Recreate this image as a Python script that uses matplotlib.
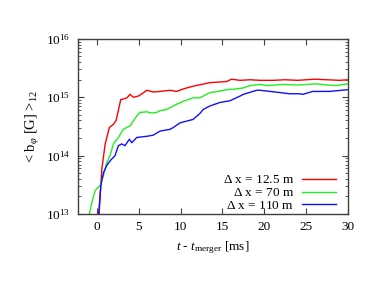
import numpy as np
import matplotlib
matplotlib.use('Agg')
import matplotlib.pyplot as plt
from matplotlib.ticker import LogLocator, NullFormatter, FixedLocator

# values (time in ms, log10 of <b_phi> in G)
red_t = [0.25, 0.6, 1.0, 1.5, 2.0, 2.3, 2.6, 2.86, 3.17, 3.6, 3.97, 4.36, 4.96, 5.5,
         5.96, 6.75, 7.55, 8.74, 9.5, 10.5, 11.5, 12.5, 13.5, 14.5, 15.5, 16.1, 17.1,
         18.3, 19.5, 21.0, 22.5, 24.0, 26.0, 27.5, 29.0, 30.0]
red_logb = [12.95, 13.77, 14.2, 14.48, 14.54, 14.6, 14.79, 14.96, 14.97, 14.99, 15.05,
            15.0, 15.02, 15.07, 15.12, 15.09, 15.10, 15.12, 15.10, 15.15, 15.19, 15.22,
            15.25, 15.26, 15.27, 15.31, 15.29, 15.30, 15.29, 15.29, 15.30, 15.29, 15.31,
            15.30, 15.29, 15.30]

green_t = [-0.88, -0.5, -0.2, 0.4, 0.8, 1.19, 1.59, 1.98, 2.58, 3.17, 3.97, 4.4, 4.77,
           5.16, 5.96, 6.5, 7.15, 7.55, 7.94, 8.34, 9.53, 10.5, 11.5, 12.3, 13.5, 14.5,
           15.5, 16.5, 17.5, 18.3, 19.5, 20.3, 22.2, 24.0, 26.2, 27.5, 28.6, 30.0]
green_logb = [13.0, 13.25, 13.40, 13.49, 13.66, 13.88, 14.0, 14.2, 14.31, 14.45, 14.51,
              14.6, 14.68, 14.74, 14.75, 14.73, 14.74, 14.77, 14.78, 14.79, 14.88, 14.94,
              14.99, 14.99, 15.08, 15.10, 15.13, 15.14, 15.16, 15.20, 15.22, 15.20, 15.22,
              15.21, 15.23, 15.21, 15.20, 15.23]

blue_t = [0.2, 0.48, 0.8, 1.19, 1.59, 2.18, 2.58, 2.98, 3.37, 3.89, 4.17, 4.77, 5.96,
          6.75, 7.55, 8.74, 9.13, 9.93, 11.5, 12.3, 12.7, 13.5, 14.7, 15.9, 17.1, 17.5,
          19.1, 19.5, 20.7, 21.9, 23.0, 24.2, 24.6, 25.8, 27.8, 30.0]
blue_logb = [12.95, 13.49, 13.71, 13.83, 13.91, 14.0, 14.17, 14.20, 14.17, 14.28, 14.22,
             14.31, 14.33, 14.35, 14.42, 14.45, 14.48, 14.56, 14.62, 14.72, 14.79, 14.85,
             14.91, 14.94, 15.02, 15.05, 15.12, 15.12, 15.10, 15.08, 15.06, 15.06, 15.05,
             15.10, 15.10, 15.13]

labels = [r'$\Delta$ x = 12.5 m', r'$\Delta$ x = 70 m', r'$\Delta$ x = 110 m']
colors = ['#ff0000', '#22ee22', '#1010ff']

plt.rcParams['font.family'] = ['Liberation Serif', 'DejaVu Serif']
plt.rcParams['mathtext.fontset'] = 'custom'
plt.rcParams['mathtext.rm'] = 'Liberation Serif'
plt.rcParams['mathtext.it'] = 'Liberation Serif:italic'
plt.rcParams['font.size'] = 9.5

fig = plt.figure(figsize=(3.82, 2.95), dpi=100)
ax = fig.add_axes([0.203, 0.275, 0.708, 0.593])

series = [(red_t, red_logb), (green_t, green_logb), (blue_t, blue_logb)]
for (t, lb), c, lab in zip(series, colors, labels):
    ax.plot(t, 10.0 ** np.array(lb), color=c, lw=1.0, label=lab)

ax.set_yscale('log')
ax.set_xlim(-2.3, 30)
ax.set_ylim(1e13, 1e16)
ax.xaxis.set_major_locator(FixedLocator([0, 5, 10, 15, 20, 25, 30]))
ax.yaxis.set_major_locator(LogLocator(base=10, numticks=10))
ax.yaxis.set_minor_locator(LogLocator(base=10, subs=np.arange(2, 10), numticks=10))
ax.yaxis.set_minor_formatter(NullFormatter())

for s in ax.spines.values():
    s.set_color('#404040')
    s.set_linewidth(1.0)
ax.tick_params(which='both', direction='in', top=True, right=True, color='#404040')
ax.tick_params(which='major', length=4, width=0.8, pad=5)
ax.tick_params(which='minor', length=2, width=0.6)

ax.set_xlabel(r'$t$ - $t_{\rm merger}$ [ms]', labelpad=5)
ax.set_ylabel(r'< b$_\varphi$ [G] >$_{12}$', fontsize=10.5, labelpad=3)

ax.legend(loc='lower right', frameon=False, markerfirst=False, handlelength=2.6,
          handletextpad=0.6, labelspacing=0.05, borderaxespad=0.2,
          bbox_to_anchor=(0.985, -0.035))

fig.savefig('out.png', dpi=100)
